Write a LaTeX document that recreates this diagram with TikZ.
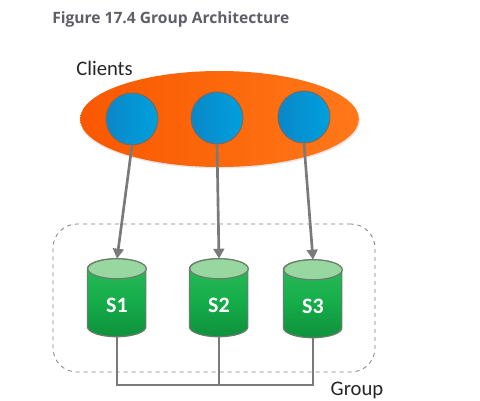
\documentclass[tikz,border=0pt]{standalone}
\usepackage{fontspec}
\setmainfont{Carlito}
\newfontfamily\titlefont{Open Sans}
\usetikzlibrary{arrows.meta,shapes.geometric,calc}
\definecolor{conn}{RGB}{122,122,122}
\definecolor{blueA}{RGB}{10,135,200}
\definecolor{blueB}{RGB}{0,160,222}
\definecolor{blueEdge}{RGB}{120,105,90}
\definecolor{orgA}{RGB}{250,88,0}
\definecolor{orgB}{RGB}{255,105,0}
\definecolor{orgC}{RGB}{255,120,25}
\definecolor{grnA}{RGB}{48,185,90}
\definecolor{grnB}{RGB}{22,175,75}
\definecolor{grnC}{RGB}{15,145,60}
\definecolor{capG}{RGB}{152,216,160}
\definecolor{cylEdge}{RGB}{105,125,110}
\definecolor{titleC}{RGB}{95,95,105}
\tikzset{
  x=0.75pt,y=-0.75pt,
  client/.style={circle,draw=blueEdge,line width=0.7pt,minimum size=39pt,inner sep=0pt,left color=blueA,right color=blueB},
  cylbox/.style={rectangle,inner sep=0pt,minimum width=44pt,minimum height=58.5pt},
  cyllabel/.style={font=\bfseries\fontsize{16.5}{16.5}\selectfont,text=white,inner sep=0pt},
  conn/.style={draw=conn,line width=2pt},
  arrowconn/.style={conn,-{Triangle[length=7.5pt,width=8pt]}},
  txt/.style={font=\fontsize{15.5}{15.5}\selectfont,text=black!85,inner sep=0pt},
}
\newcommand{\drawcyl}[1]{%
  \path[top color=grnA,bottom color=grnC,middle color=grnB,draw=cylEdge,line width=0.9pt]
    ($(#1.north west)+(0,10)$) -- ++(0,58)
    arc[start angle=180,end angle=360,x radius=29.25,y radius=-10]
    -- ++(0,-58) arc[start angle=0,end angle=180,x radius=29.25,y radius=-10] -- cycle;
  \path[fill=capG,draw=cylEdge,line width=0.9pt]
    ($(#1.north)+(0,10)$) ellipse[x radius=29.25,y radius=10];
}
\begin{document}
\begin{tikzpicture}
\useasboundingbox (0,0) rectangle (480,401);
\fill[white] (0,0) rectangle (480,401);
\node[anchor=west,inner sep=0pt,text=titleC,font=\titlefont\bfseries\fontsize{11.7}{11.7}\selectfont] (title) at (52,19) {Figure 17.4 Group Architecture};
\node[txt,anchor=center] (clients) at (104.5,68) {Clients};
\path[fill=black!20,opacity=0.5] (220,120.5) ellipse[x radius=140,y radius=48];
\node[ellipse,inner sep=0pt,minimum width=209pt,minimum height=72pt,left color=orgA,middle color=orgB,right color=orgC] (cloud) at (219.5,119) {};
\node[client] (c1) at (132,119) {};
\node[client] (c2) at (217,118) {};
\node[client] (c3) at (304,117) {};
\node[rectangle,rounded corners=18pt,draw=black!50,dashed,line width=0.6pt,minimum width=241.5pt,minimum height=111pt,inner sep=0pt] (group) at (214,298) {};
\node[txt,anchor=center] (grouplabel) at (357,390) {Group};
\node[cylbox] (s1) at (117,298) {};
\node[cylbox] (s2) at (219,298) {};
\node[cylbox] (s3) at (313,299) {};
\coordinate (bus1) at (117,385);
\coordinate (bus2) at (219,385);
\coordinate (bus3) at (313,385);
\draw[conn] (s1.south) -- (bus1) -- (bus2);
\draw[conn] (s2.south) -- (bus2);
\draw[conn] (s3.south) -- (bus3) -- (bus2);
\drawcyl{s1}\drawcyl{s2}\drawcyl{s3}
\node[cyllabel] (l1) at ($(s1)+(0,7)$) {S1};
\node[cyllabel] (l2) at ($(s2)+(0,7)$) {S2};
\node[cyllabel] (l3) at ($(s3)+(0,7)$) {S3};
\draw[arrowconn] (c1.south) -- (s1.north);
\draw[arrowconn] (c2.south) -- (s2.north);
\draw[arrowconn] (c3.south) -- (s3.north);
\end{tikzpicture}
\end{document}
